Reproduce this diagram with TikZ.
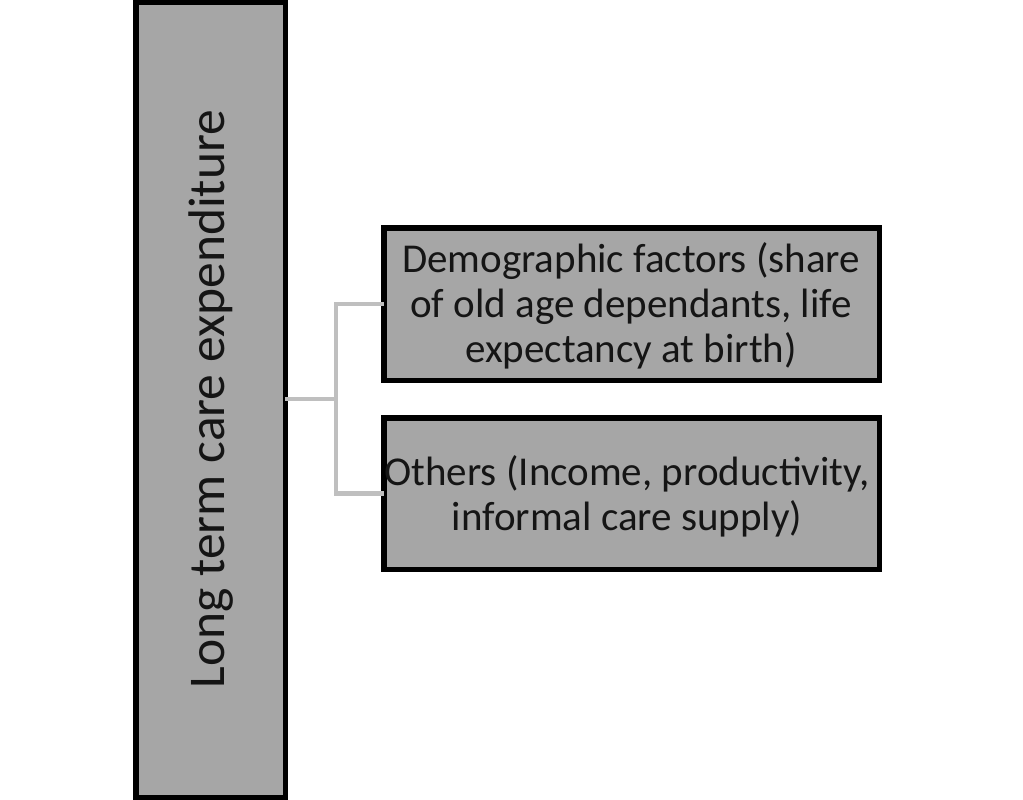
\documentclass[tikz,border=0pt]{standalone}
\usepackage{fontspec}
\setmainfont{Carlito}
\definecolor{boxfill}{HTML}{A6A6A6}
\definecolor{connc}{HTML}{BFBFBF}
\definecolor{txt}{HTML}{151515}
\begin{document}
\begin{tikzpicture}[x=1pt,y=-1pt,
  boxstyle/.style={draw=black,line width=5.5pt,fill=boxfill,inner sep=0pt,outer sep=0pt},
  bigbox/.style={boxstyle,minimum width=149.5pt,minimum height=794.5pt},
  smallbox/.style={boxstyle,minimum width=495.5pt},
  lbl/.style={text=txt,align=center,inner sep=0pt},
  conn/.style={draw=connc,line width=4.5pt}]
\useasboundingbox (0,0) rectangle (1023,800);
\node[bigbox] (ltc) at (210.5,400) {};
\node[lbl,rotate=90,font=\fontsize{51.5}{60}\selectfont] (ltct) at (211,399) {Long term care expenditure};
\node[smallbox,minimum height=152.5pt] (dem) at (631.5,304) {};
\node[lbl,font=\fontsize{41}{45}\selectfont] (demt) at (631,306) {Demographic factors (share\\of old age dependants, life\\expectancy at birth)};
\node[smallbox,minimum height=151.5pt] (oth) at (631.5,493.5) {};
\node[lbl,font=\fontsize{41}{45}\selectfont] (otht) at (627,496) {Others (Income, productivity,\\informal care supply)};
\coordinate (j) at (336,399);
\draw[conn] (ltc.east |- j) -- (j);
\draw[conn] (dem.west) -| (j) |- (oth.west);
\end{tikzpicture}
\end{document}
